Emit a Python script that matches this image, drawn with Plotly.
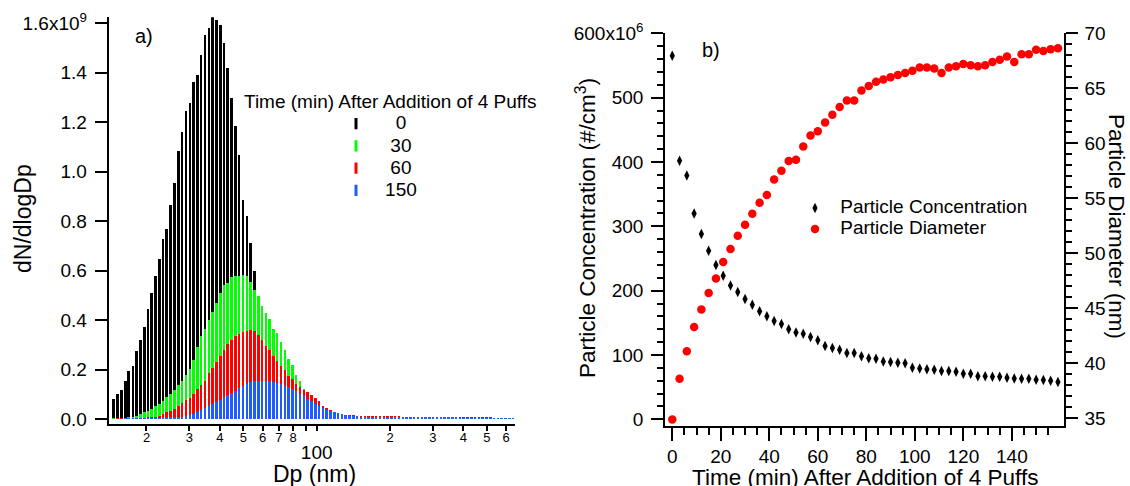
import plotly.graph_objects as go

# ---------------- Panel a data: size distributions ----------------
dp_nm = [14.6, 15.1, 15.7, 16.3, 16.8, 17.5, 18.1, 18.8, 19.5, 20.2,
         20.9, 21.7, 22.5, 23.3, 24.1, 25.0, 25.9, 26.9, 27.9, 28.9,
         30.0, 31.1, 32.2, 33.4, 34.6, 35.9, 37.2, 38.5, 40.0, 41.4,
         42.9, 44.5, 46.1, 47.8, 49.6, 51.4, 53.3, 55.2, 57.3, 59.4,
         61.5, 63.8, 66.1, 68.5, 71.0, 73.7, 76.4, 79.1, 82.0, 85.1,
         88.2, 91.4, 94.7, 98.2, 101.8, 105.5, 109.4, 113.4, 117.6, 121.9,
         126.3, 131.0, 135.8, 140.7, 145.9, 151.2, 156.8, 162.5, 168.5, 174.7,
         181.1, 187.7, 194.6, 201.7, 209.1, 216.7, 224.7, 232.9, 241.4, 250.3,
         259.5, 269.0, 278.8, 289.0, 299.6, 310.6, 322.0, 333.8, 346.0, 358.7,
         371.8, 385.4, 399.5, 414.2, 429.4, 445.1, 461.4, 478.3, 495.8, 514.0,
         532.8, 552.3, 572.5, 593.5, 615.3, 637.8, 661.2]

# dN/dlogDp in units of 1e9
dndlogdp_t0 = [0.081, 0.099, 0.119, 0.152, 0.192, 0.213, 0.273, 0.319, 0.373, 0.443,
               0.509, 0.579, 0.647, 0.728, 0.766, 0.864, 0.952, 1.083, 1.159, 1.243,
               1.275, 1.360, 1.389, 1.472, 1.550, 1.580, 1.624, 1.613, 1.593, 1.518,
               1.418, 1.297, 1.185, 1.065, 0.884, 0.821, 0.712, 0.599, 0.480, 0.400,
               0.330, 0.270, 0.215, 0.170, 0.132, 0.102, 0.078, 0.058, 0.043, 0.032,
               0.024, 0.018, 0.014, 0.011, 0.009, 0.008, 0.007, 0.006, 0.006, 0.005,
               0.005, 0.005, 0.004, 0.004, 0.004, 0.004, 0.004, 0.004, 0.004, 0.004,
               0.004, 0.004, 0.004, 0.004, 0.004, 0.004, 0.004, 0.004, 0.004, 0.004,
               0.004, 0.004, 0.004, 0.004, 0.004, 0.004, 0.004, 0.003, 0.003, 0.003,
               0.003, 0.003, 0.003, 0.003, 0.003, 0.003, 0.003, 0.003, 0.003, 0.003,
               0.003, 0.003, 0.002, 0.002, 0.002, 0.002, 0.002]
dndlogdp_t30 = [0.001, 0.002, 0.003, 0.004, 0.006, 0.010, 0.014, 0.019, 0.027, 0.033,
                0.041, 0.051, 0.062, 0.074, 0.087, 0.102, 0.118, 0.138, 0.155, 0.179,
                0.203, 0.240, 0.290, 0.334, 0.365, 0.401, 0.432, 0.469, 0.509, 0.540,
                0.549, 0.573, 0.576, 0.579, 0.583, 0.576, 0.552, 0.522, 0.495, 0.458,
                0.428, 0.404, 0.363, 0.347, 0.310, 0.277, 0.242, 0.218, 0.176, 0.155,
                0.120, 0.102, 0.088, 0.075, 0.062, 0.050, 0.040, 0.032, 0.026, 0.021,
                0.017, 0.014, 0.012, 0.011, 0.010, 0.010, 0.009, 0.009, 0.009, 0.009,
                0.009, 0.008, 0.008, 0.008, 0.008, 0.008, 0.008, 0.007, 0.007, 0.007,
                0.007, 0.007, 0.007, 0.006, 0.006, 0.006, 0.006, 0.006, 0.006, 0.005,
                0.005, 0.005, 0.005, 0.005, 0.005, 0.005, 0.004, 0.004, 0.004, 0.004,
                0.004, 0.004, 0.004, 0.003, 0.003, 0.003, 0.003]
dndlogdp_t60 = [0.000, 0.001, 0.001, 0.001, 0.002, 0.002, 0.002, 0.003, 0.004, 0.005,
                0.008, 0.010, 0.014, 0.019, 0.027, 0.034, 0.041, 0.051, 0.064, 0.075,
                0.085, 0.103, 0.120, 0.139, 0.152, 0.186, 0.206, 0.229, 0.253, 0.280,
                0.304, 0.320, 0.337, 0.345, 0.350, 0.356, 0.358, 0.355, 0.340, 0.318,
                0.293, 0.280, 0.256, 0.236, 0.213, 0.197, 0.175, 0.162, 0.143, 0.129,
                0.116, 0.108, 0.096, 0.085, 0.072, 0.054, 0.045, 0.036, 0.030, 0.025,
                0.021, 0.018, 0.016, 0.015, 0.014, 0.013, 0.013, 0.013, 0.012, 0.012,
                0.012, 0.012, 0.011, 0.011, 0.011, 0.011, 0.010, 0.010, 0.010, 0.010,
                0.009, 0.009, 0.009, 0.009, 0.008, 0.008, 0.008, 0.008, 0.007, 0.007,
                0.007, 0.007, 0.006, 0.006, 0.006, 0.006, 0.005, 0.005, 0.005, 0.005,
                0.004, 0.004, 0.004, 0.004, 0.003, 0.003, 0.003]
dndlogdp_t150 = [0.000, 0.000, 0.000, 0.001, 0.001, 0.001, 0.001, 0.001, 0.002, 0.002,
                 0.002, 0.003, 0.004, 0.005, 0.006, 0.007, 0.008, 0.009, 0.010, 0.012,
                 0.015, 0.020, 0.028, 0.038, 0.043, 0.051, 0.062, 0.067, 0.078, 0.089,
                 0.098, 0.105, 0.113, 0.125, 0.132, 0.140, 0.148, 0.153, 0.155, 0.153,
                 0.152, 0.152, 0.151, 0.145, 0.140, 0.132, 0.128, 0.121, 0.112, 0.102,
                 0.092, 0.082, 0.073, 0.062, 0.054, 0.045, 0.038, 0.032, 0.027, 0.023,
                 0.019, 0.016, 0.014, 0.012, 0.011, 0.010, 0.010, 0.009, 0.009, 0.009,
                 0.008, 0.008, 0.008, 0.008, 0.008, 0.007, 0.007, 0.007, 0.007, 0.007,
                 0.006, 0.006, 0.006, 0.006, 0.006, 0.006, 0.005, 0.005, 0.005, 0.005,
                 0.005, 0.004, 0.004, 0.004, 0.004, 0.004, 0.004, 0.003, 0.003, 0.003,
                 0.003, 0.003, 0.002, 0.002, 0.002, 0.002, 0.002]

series_names = ["0", "30", "60", "150"]
series_colors = ["#000000", "#00ff00", "#ff0000", "#1f5cff"]

# ---------------- Panel b data: time series ----------------
time_min = [0, 3, 6, 9, 12, 15, 18, 21, 24, 27, 30, 33, 36, 39, 42, 45, 48, 51,
            54, 57, 60, 63, 66, 69, 72, 75, 78, 81, 84, 87, 90, 93, 96, 99, 102, 105,
            108, 111, 114, 117, 120, 123, 126, 129, 132, 135, 138, 141, 144, 147, 150,
            153, 156, 159]
conc_e6 = [565, 402, 379, 320, 288, 262, 240, 223, 208, 198, 187, 178, 168, 160,
           153, 148, 140, 135, 133, 128, 123, 114, 111, 108, 103, 103, 98, 95, 94,
           90, 89, 88, 87, 80, 79, 78, 77, 75, 75, 74, 71, 71, 67, 67, 66, 66, 64.5,
           63.5, 63, 63, 61.5, 61, 60, 58]
diam_nm = [34.9, 38.6, 41.1, 43.3, 44.9, 46.4, 47.7, 49.2, 50.4, 51.6, 52.6, 53.6,
           54.6, 55.3, 56.7, 57.5, 58.4, 58.5, 59.7, 60.7, 61.1, 61.9, 62.6, 63.3,
           63.9, 63.9, 64.8, 65.2, 65.6, 65.8, 66.0, 66.2, 66.4, 66.6, 66.9, 66.9,
           66.8, 66.4, 66.9, 67.0, 67.2, 67.1, 67.0, 67.1, 67.4, 67.6, 67.9, 67.4,
           68.1, 68.1, 68.5, 68.4, 68.55, 68.65]

FONT = "Liberation Sans, Arial, Helvetica, sans-serif"
W, H = 1130, 486


def px_x(p):
    return p / W


def px_y(p):
    return 1 - p / H


fig = go.Figure()

# bar geometry on log axis: fraction of each 1/64-decade bin that is filled
fill = 0.66
lo_f = 10 ** (-fill / 128)
hi_f = 10 ** (fill / 128)
bar_offsets = [d * lo_f - d for d in dp_nm]
bar_widths = [d * (hi_f - lo_f) for d in dp_nm]

for vals, name, col in zip([dndlogdp_t0, dndlogdp_t30, dndlogdp_t60, dndlogdp_t150],
                           series_names, series_colors):
    fig.add_trace(go.Bar(
        x=dp_nm, y=[v * 1e9 for v in vals], width=bar_widths, offset=bar_offsets,
        marker=dict(color=col, line=dict(width=0)), name=name, showlegend=False,
        xaxis="x", yaxis="y"))

# legend entries for panel a (thin vertical bar symbols)
pads = {"0": "\u00a0\u00a0\u00a0\u2009", "30": "\u00a0\u00a0\u2009",
        "60": "\u00a0\u00a0\u2009", "150": "\u00a0\u2009"}
for name, col in zip(series_names, series_colors):
    fig.add_trace(go.Scatter(
        x=[None], y=[None], mode="markers", xaxis="x", yaxis="y",
        marker=dict(symbol="line-ns", size=8, color=col, line=dict(width=3, color=col)),
        name='<span style="font-size:19px">' + pads[name] + name + '</span>',
        legend="legend", showlegend=True))

# panel b traces
fig.add_trace(go.Scatter(
    x=time_min, y=[c * 1e6 for c in conc_e6], mode="markers", xaxis="x2", yaxis="y2",
    marker=dict(symbol="diamond-tall", size=7.5, color="black", line=dict(width=0)),
    name='<span style="font-size:19px">\u00a0Particle Concentration</span>',
    legend="legend2"))
fig.add_trace(go.Scatter(
    x=time_min, y=diam_nm, mode="markers", xaxis="x2", yaxis="y3",
    marker=dict(symbol="circle", size=8.5, color="#ff0000", line=dict(width=0)),
    name='<span style="font-size:19px">\u00a0Particle Diameter</span>',
    legend="legend2"))

axis_common = dict(showgrid=False, zeroline=False, showline=True, linecolor="black",
                   linewidth=1.5, ticks="outside", tickcolor="black", tickwidth=1.5,
                   automargin=False,
                   tickfont=dict(family=FONT, size=19, color="black"))

xa_dom = [px_x(108.5), px_x(515)]
xa_range = [1.145, 2.8144]
ya_dom = [px_y(423.5), px_y(17.3)]

xb_dom = [px_x(665), px_x(1064)]
yb_dom = [px_y(426), px_y(33.3)]

minor_x_vals = [20, 30, 40, 50, 60, 70, 80, 90, 200, 300, 400, 500, 600]
minor_x_text = ["2", "3", "4", "5", "6", "7", "8", "", "2", "3", "4", "5", "6"]

fig.update_layout(
    width=W, height=H, autosize=False,
    margin=dict(l=0, r=0, t=0, b=0, pad=0, autoexpand=False),
    paper_bgcolor="white", plot_bgcolor="white",
    barmode="overlay", bargap=0,
    font=dict(family=FONT, color="black"),
    xaxis=dict(axis_common, type="log", domain=xa_dom, range=xa_range, anchor="y",
               tickmode="array",
               tickvals=minor_x_vals + [100],
               ticktext=minor_x_text + ['\u200b<br><span style="font-size:19px">100</span>'],
               ticklen=6, tickfont=dict(family=FONT, size=13, color="black"),
               ticklabelstandoff=-5),
    xaxis3=dict(type="log", overlaying="x", anchor="y", side="bottom", range=xa_range,
                showgrid=False, zeroline=False, showline=False, ticks="outside",
                automargin=False,
                tickmode="array", tickvals=[100], ticktext=[""], ticklen=12,
                tickwidth=1.5, tickcolor="black"),
    yaxis=dict(axis_common, domain=ya_dom, range=[-0.017e9, 1.624e9], anchor="x",
               tickmode="array",
               tickvals=[0, 0.2e9, 0.4e9, 0.6e9, 0.8e9, 1.0e9, 1.2e9, 1.4e9, 1.6e9],
               ticktext=["0.0", "0.2", "0.4", "0.6", "0.8", "1.0", "1.2", "1.4",
                         "1.6x10<sup>9</sup>"],
               ticklen=12, ticklabelstandoff=4),
    xaxis2=dict(axis_common, domain=xb_dom, range=[-3.0, 161.5], anchor="y2",
                tickmode="array", tickvals=[0, 20, 40, 60, 80, 100, 120, 140],
                ticklen=13, ticklabelstandoff=-1,
                minor=dict(ticks="outside", ticklen=7, tickwidth=1.5, tickcolor="black",
                           tickmode="array",
                           tickvals=[v for v in range(5, 161, 5) if v % 20])),
    yaxis2=dict(axis_common, domain=yb_dom, range=[-10.4e6, 600e6], anchor="x2",
                tickmode="array",
                tickvals=[0, 100e6, 200e6, 300e6, 400e6, 500e6, 600e6],
                ticktext=["0", "100", "200", "300", "400", "500", "600x10<sup>6</sup>"],
                ticklen=12, ticklabelstandoff=4,
                minor=dict(ticks="outside", ticklen=6, tickwidth=1.5, tickcolor="black",
                           tickmode="array",
                           tickvals=[v * 1e6 for v in range(20, 600, 20) if v % 100])),
    yaxis3=dict(axis_common, overlaying="y2", side="right", anchor="x2",
                range=[34.3, 70], tickmode="array",
                tickvals=[35, 40, 45, 50, 55, 60, 65, 70],
                ticklen=12, ticklabelstandoff=3,
                minor=dict(ticks="outside", ticklen=6, tickwidth=1.5, tickcolor="black",
                           tickmode="array",
                           tickvals=[v for v in range(35, 70) if v % 5])),
    legend=dict(x=px_x(336), y=px_y(107.5), xanchor="left", yanchor="top",
                bgcolor="rgba(0,0,0,0)", borderwidth=0,
                font=dict(family=FONT, size=14.8, color="black"),
                itemclick=False, itemdoubleclick=False),
    legend2=dict(x=px_x(795), y=px_y(192.5), xanchor="left", yanchor="top",
                 bgcolor="rgba(0,0,0,0)", borderwidth=0,
                 font=dict(family=FONT, size=13.85, color="black"),
                 itemclick=False, itemdoubleclick=False),
    showlegend=True,
)

ann_font = dict(family=FONT, color="black")
annotations = [
    dict(text="dN/dlogDp", x=px_x(23), y=px_y(219), textangle=-90,
         font=dict(ann_font, size=23)),
    dict(text="Dp (nm)", x=px_x(314.7), y=px_y(474), font=dict(ann_font, size=23)),
    dict(text="a)", x=px_x(144), y=px_y(36), font=dict(ann_font, size=20)),
    dict(text="Time (min) After Addition of 4 Puffs", x=px_x(242.3), y=px_y(101.7),
         xanchor="left", font=dict(ann_font, size=19)),
    dict(text="Particle Concentration (#/cm<sup>3</sup>)", x=px_x(586), y=px_y(228),
         textangle=-90, font=dict(ann_font, size=22.5)),
    dict(text="Particle Diameter (nm)", x=px_x(1117), y=px_y(226), textangle=90,
         font=dict(ann_font, size=22.5)),
    dict(text="Time (min) After Addition of 4 Puffs", x=px_x(865), y=px_y(477),
         font=dict(ann_font, size=22.5)),
    dict(text="b)", x=px_x(711), y=px_y(50), font=dict(ann_font, size=20)),
]
for a in annotations:
    a.setdefault("xanchor", "center")
    a.update(xref="paper", yref="paper", yanchor="middle", showarrow=False)
fig.update_layout(annotations=annotations)

fig.write_html(
    "out.html",
    config={"displayModeBar": False},
    post_script="document.body.style.margin='0px';"
                "document.body.style.overflow='hidden';")
